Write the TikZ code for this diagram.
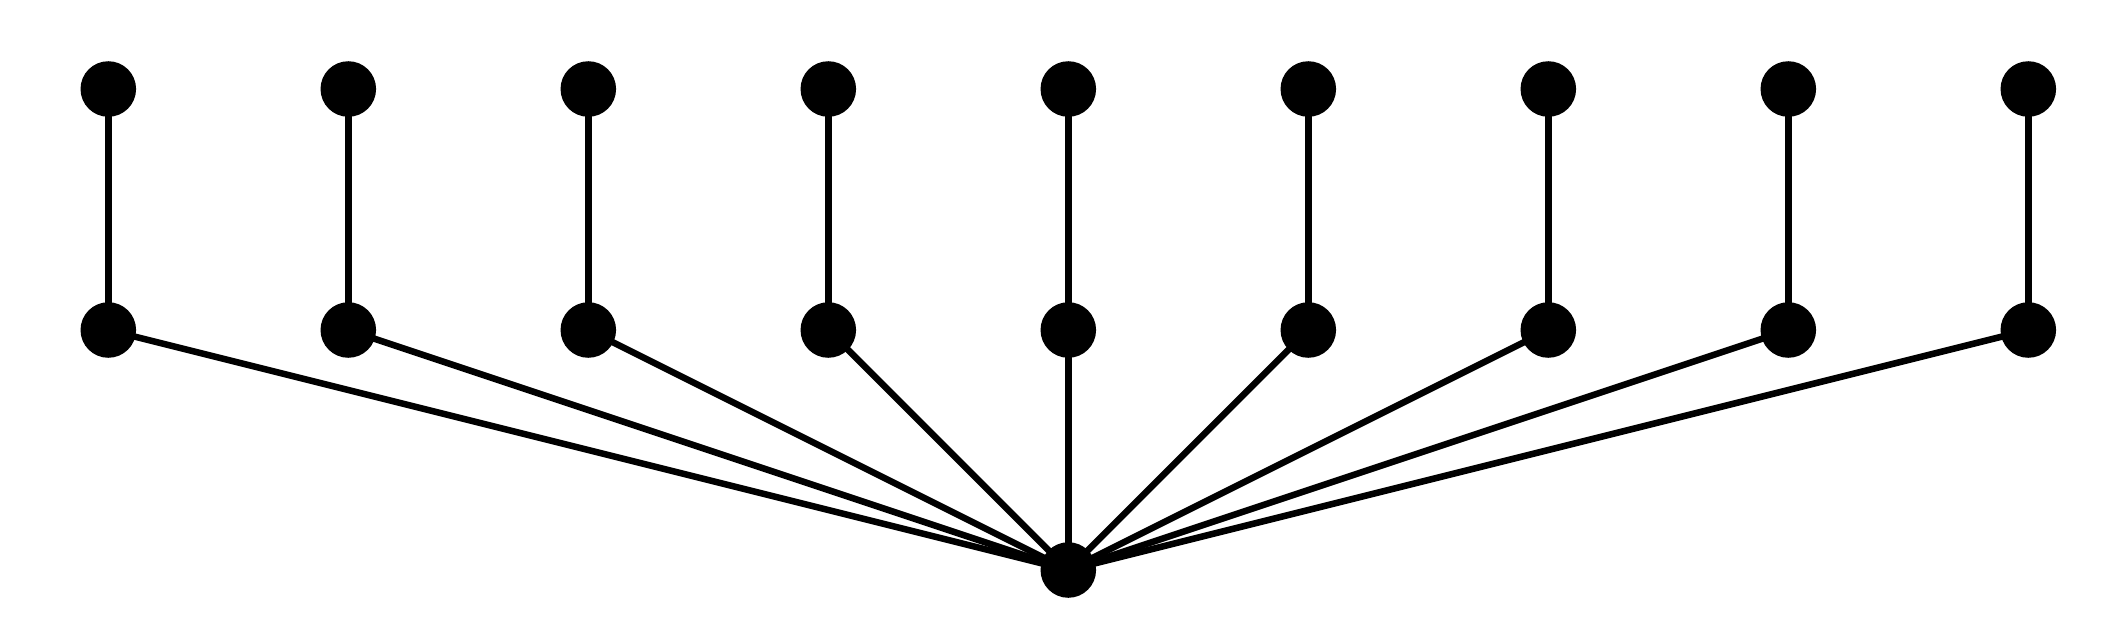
\documentclass[tikz,border=0pt]{standalone}
\usetikzlibrary{backgrounds}
\begin{document}
\begin{tikzpicture}[x=0.01cm,y=-0.01cm,
  dot/.style={circle,fill=black,draw=black,line width=1pt,inner sep=0pt,minimum size=0.52cm},
  edge/.style={line width=0.065cm,black}]
\useasboundingbox (0,0) rectangle (2112,636);
\foreach \i in {0,...,8} {
  \node[dot] (t\i) at ({108.3+240*\i},89) {};
  \node[dot] (m\i) at ({108.3+240*\i},330) {};
}
\node[dot] (b) at (1068.3,570) {};
\begin{pgfonlayer}{background}
\foreach \i in {0,...,8} {
  \draw[edge] (t\i.center) -- (m\i.center);
  \draw[edge] (m\i.center) -- (b.center);
}
\end{pgfonlayer}
\end{tikzpicture}
\end{document}
